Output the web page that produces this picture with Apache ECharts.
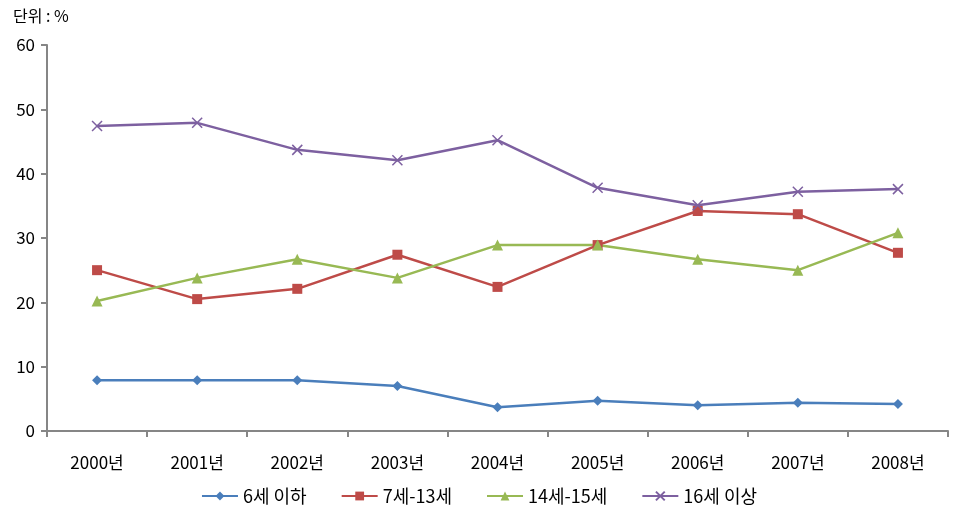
<!DOCTYPE html>
<html><head><meta charset="utf-8">
<script src="https://cdn.jsdelivr.net/npm/echarts@6/dist/echarts.min.js"></script>
<style>html,body{margin:0;padding:0;background:#fff}#c{width:958px;height:520px}</style>
</head><body><div id="c"></div>
<script>
const categories = ['2000년','2001년','2002년','2003년','2004년','2005년','2006년','2007년','2008년'];
const seriesNames = ['6세 이하','7세-13세','14세-15세','16세 이상'];
const under6 = [7.9, 7.9, 7.9, 7.0, 3.7, 4.7, 4.0, 4.4, 4.2];
const age7to13 = [25.0, 20.5, 22.1, 27.4, 22.4, 28.9, 34.2, 33.7, 27.7];
const age14to15 = [20.2, 23.8, 26.7, 23.8, 28.9, 28.9, 26.7, 25.0, 30.8];
const over16 = [47.4, 47.9, 43.7, 42.1, 45.2, 37.8, 35.1, 37.2, 37.6];
const yTicks = [0, 10, 20, 30, 40, 50, 60];

const font = '"Noto Sans CJK KR", "Noto Sans", sans-serif';
const colors = ['#4a7ebb', '#be4b48', '#98b954', '#7d60a0'];
const symbols = ['diamond', 'rect', 'triangle', 'path://M0,0L10,10M10,0L0,10'];
const sizes = [10, 10, 11, 10];
const datas = [under6, age7to13, age14to15, over16];

const chart = echarts.init(document.getElementById('c'));
chart.setOption({
  animation: false,
  textStyle: { fontFamily: font },
  title: { text: '단위 : %', left: 8, top: 3, textStyle: { fontFamily: font, fontSize: 16, fontWeight: 'normal', color: '#000' } },
  grid: { left: 47, right: 10, top: 45, bottom: 89 },
  legend: {
    bottom: 10, left: 'center', itemWidth: 36, itemHeight: 11, itemGap: 34,
    textStyle: { fontFamily: font, fontSize: 18, color: '#000' },
    data: seriesNames
  },
  xAxis: {
    type: 'category', data: categories, boundaryGap: true,
    axisLine: { lineStyle: { color: '#868686', width: 2 } },
    axisTick: { show: true, length: 6, lineStyle: { color: '#868686', width: 2 } },
    axisLabel: { fontFamily: font, fontSize: 17, color: '#000', margin: 23 }
  },
  yAxis: {
    type: 'value', min: 0, max: 60, interval: 10,
    axisLine: { show: true, lineStyle: { color: '#868686', width: 2 } },
    axisTick: { show: true, length: 6, lineStyle: { color: '#868686', width: 2 } },
    splitLine: { show: false },
    axisLabel: { fontFamily: font, fontSize: 17, color: '#000', margin: 12,
      formatter: v => yTicks.includes(v) ? String(v) : '' }
  },
  series: seriesNames.map((n, i) => ({
    name: n, type: 'line', data: datas[i],
    symbol: symbols[i], symbolSize: sizes[i], showAllSymbol: true,
    lineStyle: { color: colors[i], width: 2.5 },
    itemStyle: i === 3 ? { color: 'rgba(0,0,0,0)', borderColor: colors[i], borderWidth: 1.5 } : { color: colors[i] },
    emphasis: { disabled: true }
  }))
});
</script></body></html>
